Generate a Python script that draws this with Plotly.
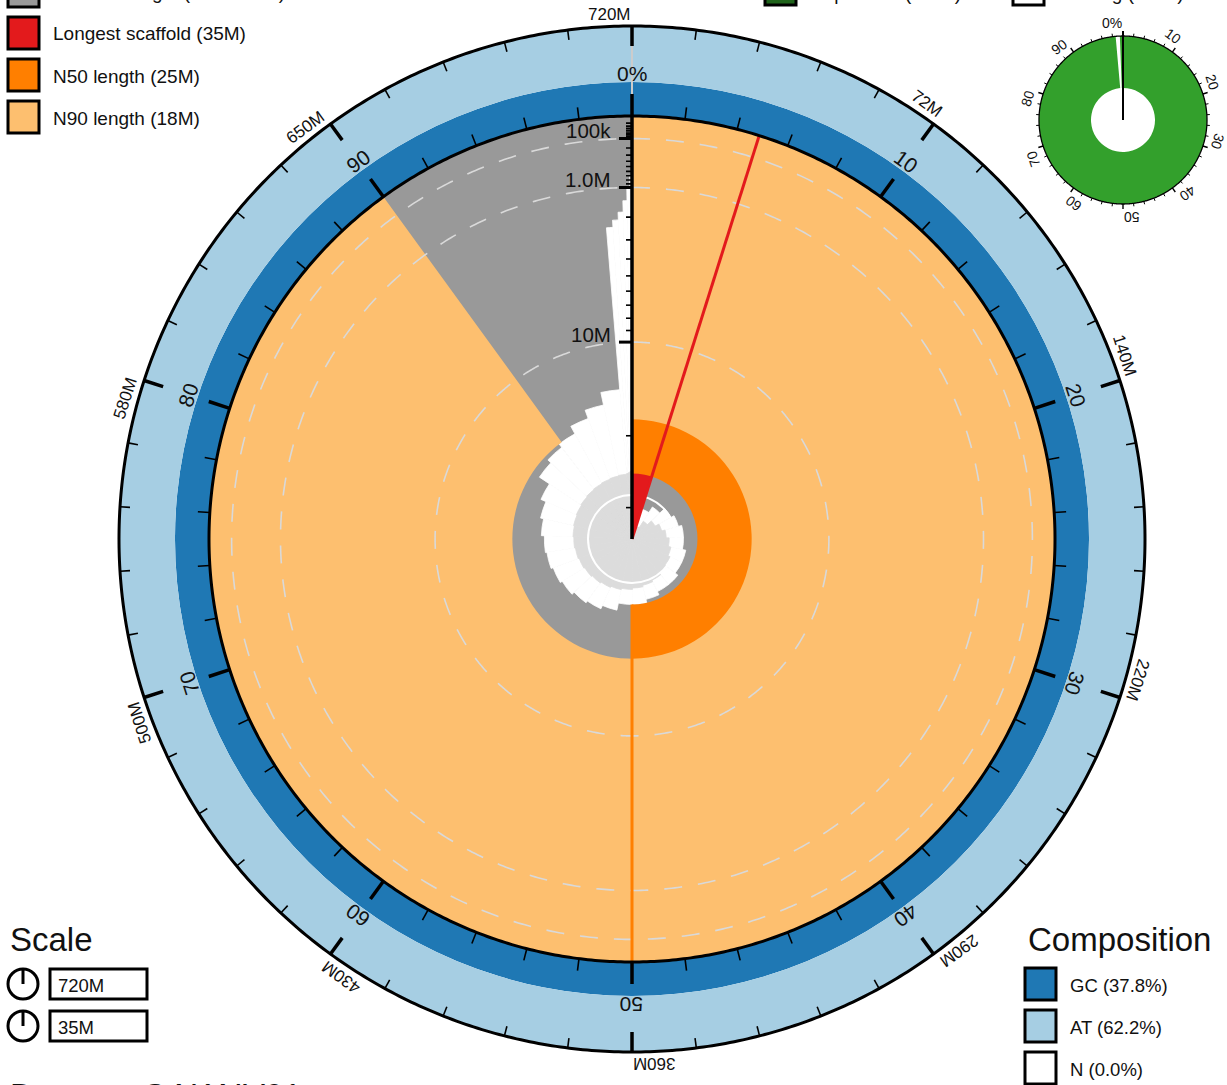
import math
import plotly.graph_objects as go

# ---------------- data ----------------
dataset_name = "GAKAIV01"
# scaffold lengths (Mb), sorted longest first
scaffold_lengths_mb = [35, 30, 29, 28, 27.5, 27, 27, 26.5, 26.5, 26, 26, 25.5, 25, 25,
                       24, 23.5, 23.2, 22.8, 22.5, 22.2, 22, 21.6, 21.2, 20.5, 19, 18.5,
                       18, 17, 16, 14.6, 2.4, 2.1, 1.8, 1.4, 1.0, 0.7]
longest_mb = 35
n50_mb = 25
n90_mb = 18
n50_pct = 50
n90_pct = 90
gc_pct = 37.8
at_pct = 62.2
n_pct = 0.0
# BUSCO-style inset (percent of genes)
inset_segments = [("complete", 0.0, 98.6), ("complete", 99.4, 100.0)]
# axis values
length_major_ticks_mb = [0.1, 1, 10]
length_major_labels = ["100k", "1.0M", "10M"]
length_minor_ticks_mb = [0.01, 0.02, 0.03, 0.04, 0.05, 0.06, 0.07, 0.08, 0.09,
                         0.2, 0.3, 0.4, 0.5, 0.6, 0.7, 0.8, 0.9,
                         2, 3, 4, 5, 6, 7, 8, 9, 20, 30]
outer_tick_labels = ["720M", "72M", "140M", "220M", "290M", "360M", "430M", "500M", "580M", "650M"]
pct_tick_labels = ["0%", "10", "20", "30", "40", "50", "60", "70", "80", "90"]
top_left_legend = [("Scaffold length (total 720M)", "#999999"),
                   ("Longest scaffold (35M)", "#e31a1c"),
                   ("N50 length (25M)", "#ff7f00"),
                   ("N90 length (18M)", "#fdbf6f")]
top_right_legend = [("Duplicated (0.0%)", "#20641c"), ("Missing (0.8%)", "#ffffff")]
composition_legend = [("GC (37.8%)", "#1f78b4"), ("AT (62.2%)", "#a6cee3"), ("N (0.0%)", "#ffffff")]
scale_labels = ["720M", "35M"]

# ---------------- geometry / style ----------------
W, H = 1227, 1085
CX, CY = 632, 539
R_MAIN, R_OUT, POLAR_R = 423, 513, 530
ICX, ICY, IR_OUT, IR_IN, IPOLAR_R = 1123, 120, 84, 32, 100
COUNT_DECADE_PX = 44
FONT = "Liberation Sans, Arial, sans-serif"
GREY, PALE, RED, ORANGE, LORANGE = "#999999", "#dcdcdc", "#e31a1c", "#ff7f00", "#fdbf6f"
DBLUE, LBLUE, GREEN = "#1f78b4", "#a6cee3", "#33a02c"

CHAR_W = {c: 0.556 for c in "0123456789"}
CHAR_W.update({"M": 0.833, "%": 0.889, "k": 0.5, ".": 0.278})


def text_w(s, size):
    return sum(CHAR_W.get(c, 0.55) for c in s) * size


def to_paper(x, y):
    return x / W, 1 - y / H


total_mb = sum(scaffold_lengths_mb)


def r_len(mb):
    return R_MAIN * (1 - math.sqrt(mb / longest_mb))


def r_count(c):
    return COUNT_DECADE_PX * math.log10(c)


fig = go.Figure()


def bar(theta, width, base, r, color, subplot="polar", outline=True):
    fig.add_trace(go.Barpolar(
        theta=theta, width=width, base=base, r=r, subplot=subplot,
        marker=dict(color=color, line=dict(color=color, width=0.8 if outline else 0)),
        hoverinfo="skip", showlegend=False))


def lines(rs, ts, color, width, dash="solid", subplot="polar"):
    fig.add_trace(go.Scatterpolar(
        r=rs, theta=ts, mode="lines", subplot=subplot,
        line=dict(color=color, width=width, dash=dash),
        hoverinfo="skip", showlegend=False))


def radial_segments(items):
    rs, ts = [], []
    for r0, r1, t in items:
        rs += [r0, r1, None]
        ts += [t, t, None]
    return rs, ts


def circle(r, n=721):
    return [r] * n, [i * 360 / (n - 1) for i in range(n)]


# ---------- scaffold-length snail ----------
thetas, widths, len_r, cnt_r = [], [], [], []
cum = 0.0
for i, L in enumerate(scaffold_lengths_mb):
    a0 = cum / total_mb * 360
    cum += L
    a1 = cum / total_mb * 360
    thetas.append((a0 + a1) / 2)
    widths.append(a1 - a0)
    len_r.append(r_len(L))
    cnt_r.append(r_count(i + 1))

bar([180], [360], [0], [R_MAIN], GREY)
bar(thetas, widths, [0] * len(thetas), len_r, "#ffffff")
bar(thetas, widths, [0] * len(thetas), cnt_r, PALE)
bar([180], [360], [r_count(10) - 1], [2], "#ffffff", outline=False)

lon_deg = longest_mb / total_mb * 360
n50_deg = n50_pct / 100 * 360
n90_deg = n90_pct / 100 * 360
bar([lon_deg / 2], [lon_deg], [0], [R_MAIN], RED, outline=False)
bar([n50_deg / 2], [n50_deg], [r_len(n50_mb)], [R_MAIN - r_len(n50_mb)], ORANGE, outline=False)
bar([n90_deg / 2], [n90_deg], [r_len(n90_mb)], [R_MAIN - r_len(n90_mb)], LORANGE, outline=False)

# composition ring
ring = R_OUT - R_MAIN
bar([180], [360], [R_MAIN], [gc_pct / 100 * ring], DBLUE, outline=False)
bar([180], [360], [R_MAIN + gc_pct / 100 * ring], [at_pct / 100 * ring], LBLUE, outline=False)

# dashed scale circles
for v in length_major_ticks_mb:
    rr, tt = circle(r_len(v))
    lines(rr, tt, "#d9d9d9", 1.6, dash="18px,16px")

# N50 / longest radial lines
lines([0, R_MAIN], [lon_deg, lon_deg], RED, 3)
lines([r_len(n50_mb), R_MAIN], [n50_deg, n50_deg], ORANGE, 3)

# circles
rr, tt = circle(R_MAIN)
lines(rr, tt, "#000000", 3)
rr, tt = circle(R_OUT)
lines(rr, tt, "#000000", 3)

# ticks on rings
major = [(R_MAIN, R_MAIN + 22, k * 36) for k in range(10)] + \
        [(R_OUT - 20, R_OUT, k * 36) for k in range(10)]
minor = [(R_MAIN, R_MAIN + 12, k * 7.2) for k in range(50) if k % 5] + \
        [(R_OUT - 10, R_OUT, k * 7.2) for k in range(50) if k % 5]
rs, ts = radial_segments(minor)
lines(rs, ts, "#000000", 1.6)
lines([R_MAIN + 22, R_OUT - 20], [0, 0], "#cccccc", 2)
rs, ts = radial_segments(major)
lines(rs, ts, "#000000", 3.5)

# vertical length axis with ticks to the left
lines([0, R_MAIN], [0, 0], "#000000", 3.5)


def hticks(values, length):
    rs, ts = [], []
    for v in values:
        r = r_len(v)
        rs += [r, math.hypot(r, length), None]
        ts += [0, 360 - math.degrees(math.atan2(length, r)), None]
    return rs, ts


rs, ts = hticks(length_minor_ticks_mb, 6)
lines(rs, ts, "#000000", 1.6)
rs, ts = hticks(length_major_ticks_mb, 13)
lines(rs, ts, "#000000", 3)

# ---------- inset ----------
for name, p0, p1 in inset_segments:
    a0, a1 = p0 * 3.6, p1 * 3.6
    bar([(a0 + a1) / 2], [a1 - a0], [IR_IN], [IR_OUT - IR_IN], GREEN, subplot="polar2", outline=False)
rr, tt = circle(IR_OUT)
lines(rr, tt, "#000000", 1.3, subplot="polar2")
rs, ts = radial_segments([(IR_OUT, IR_OUT + 3, k * 7.2) for k in range(50) if k % 5])
lines(rs, ts, "#000000", 1, subplot="polar2")
rs, ts = radial_segments([(IR_OUT, IR_OUT + 5, k * 36) for k in range(10)])
lines(rs, ts, "#000000", 1.4, subplot="polar2")
lines([0, IR_OUT + 5], [0, 0], "#000000", 2, subplot="polar2")


# ---------- text ----------
def add_text(x, y, text, size, angle=0, xanchor="center", color="#111111"):
    xp, yp = to_paper(x, y)
    fig.add_annotation(x=xp, y=yp, xref="paper", yref="paper", text=text, showarrow=False,
                       font=dict(family=FONT, size=size, color=color), textangle=angle,
                       xanchor=xanchor, yanchor="middle")


def ring_label(text, r, deg, size, tangential, cx=CX, cy=CY):
    t = math.radians(deg)
    x = cx + r * math.sin(t) + tangential * math.cos(t)
    y = cy - r * math.cos(t) + tangential * math.sin(t)
    ang = deg if deg <= 180 else deg - 360
    add_text(x, y, text, size, angle=ang)


for k, lab in enumerate(outer_tick_labels):
    ring_label(lab, R_OUT + 12, k * 36, 17, -text_w(lab, 17) / 2 - 1)
for k, lab in enumerate(pct_tick_labels):
    ring_label(lab, 466, k * 36, 21, 0)
for k, lab in enumerate(pct_tick_labels):
    ring_label(lab, IR_OUT + 13, k * 36, 14, -text_w(lab, 14) / 2 - 1, cx=ICX, cy=ICY)

for v, lab in zip(length_major_ticks_mb, length_major_labels):
    add_text(613, CY - r_len(v) - 8, lab, 20.5, xanchor="right")

shapes = []


def box(x0, y0, x1, y1, fill):
    a, b = to_paper(x0, y0)
    c, d = to_paper(x1, y1)
    shapes.append(dict(type="rect", xref="paper", yref="paper", x0=a, y0=d, x1=c, y1=b,
                       fillcolor=fill, line=dict(color="#000000", width=3)))


for i, (lab, col) in enumerate(top_left_legend):
    yc = -9 + 42 * i
    box(8, yc - 16, 39, yc + 16, col)
    add_text(51, yc + 1, lab, 19, xanchor="left")

for j, (lab, col) in enumerate(top_right_legend):
    x0 = 765 + 248 * j
    box(x0, -25, x0 + 31, 5, col)
    add_text(x0 + 43, -7, lab, 19, xanchor="left")

add_text(1026, 939, "Composition", 33, xanchor="left")
for i, (lab, col) in enumerate(composition_legend):
    yc = 984 + 42 * i
    box(1025, yc - 16, 1056, yc + 16, col)
    add_text(1068, yc + 1, lab, 18.5, xanchor="left")

add_text(8, 939, "Scale", 33, xanchor="left")
for i, lab in enumerate(scale_labels):
    yc = 984 + 42 * i
    a, b = to_paper(8, yc - 15)
    c, d = to_paper(38, yc + 15)
    shapes.append(dict(type="circle", xref="paper", yref="paper", x0=a, y0=d, x1=c, y1=b,
                       line=dict(color="#000000", width=3)))
    a, b = to_paper(23, yc)
    c, d = to_paper(23, yc - 14)
    shapes.append(dict(type="line", xref="paper", yref="paper", x0=a, y0=b, x1=c, y1=d,
                       line=dict(color="#000000", width=3)))
    box(50, yc - 15, 147, yc + 15, "#ffffff")
    add_text(56, yc + 1, lab, 18.5, xanchor="left")

add_text(8, 1095, "Dataset: " + dataset_name, 33, xanchor="left")


def domain(cx, cy, r):
    return dict(x=[(cx - r) / W, (cx + r) / W], y=[(H - cy - r) / H, (H - cy + r) / H])


polar_common = dict(
    bgcolor="rgba(0,0,0,0)", barmode="overlay", bargap=0, hole=0,
    angularaxis=dict(rotation=90, direction="clockwise", visible=False, showgrid=False),
)
fig.update_layout(
    width=W, height=H, autosize=False,
    margin=dict(l=0, r=0, t=0, b=0),
    paper_bgcolor="#ffffff", plot_bgcolor="#ffffff",
    showlegend=False,
    polar=dict(domain=domain(CX, CY, POLAR_R),
               radialaxis=dict(range=[0, POLAR_R], visible=False, showgrid=False),
               **polar_common),
    polar2=dict(domain=domain(ICX, ICY, IPOLAR_R),
                radialaxis=dict(range=[0, IPOLAR_R], visible=False, showgrid=False),
                **polar_common),
    shapes=shapes,
)

fig.write_html("out.html", config={"displayModeBar": False, "staticPlot": True},
               post_script="document.body.style.margin='0';document.body.style.overflow='hidden';")
